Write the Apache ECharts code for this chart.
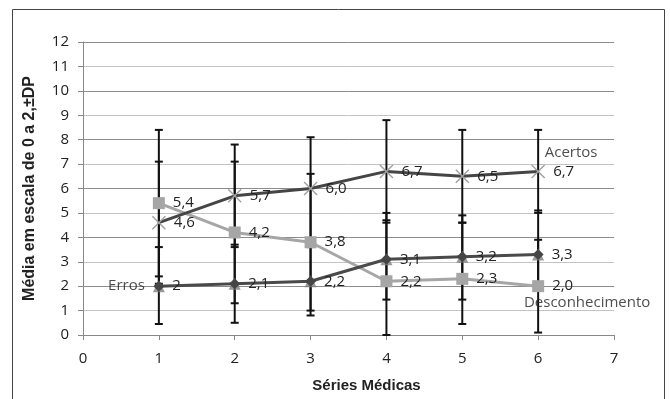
<!DOCTYPE html>
<html><head><meta charset="utf-8">
<script src="https://cdn.jsdelivr.net/npm/echarts@6/dist/echarts.min.js"></script>
<style>html,body{margin:0;padding:0;background:#fff}#c{width:670px;height:399px}</style>
</head><body><div id="c"></div>
<script>
var xs = [1, 2, 3, 4, 5, 6];
var acertos = [4.6, 5.7, 6.0, 6.7, 6.5, 6.7];
var descon = [5.4, 4.2, 3.8, 2.2, 2.3, 2.0];
var erros = [2, 2.1, 2.2, 3.1, 3.2, 3.3];
// error bar ends (low, high)
var acertosLow = [2.1, 3.6, 3.9, 4.6, 4.6, 5.0];
var acertosHigh = [7.1, 7.8, 8.1, 8.8, 8.4, 8.4];
var desconLow = [2.4, 1.3, 1.0, 0.0, 0.45, 0.1];
var desconHigh = [8.4, 7.1, 6.6, 5.0, 4.6, 3.9];
var errosLow = [0.45, 0.5, 0.8, 1.45, 1.45, 2.0];
var errosHigh = [3.6, 3.7, 3.6, 4.7, 4.9, 5.1];
var yTicks = [0,1,2,3,4,5,6,7,8,9,10,11,12];

var FONT = 'Open Sans';
function pairs(v){ return xs.map(function(x,i){ return [x, v[i]]; }); }
function errData(lo, hi){ return xs.map(function(x,i){ return [x, lo[i], hi[i]]; }); }
function errSeries(lo, hi){
  return {
    type: 'custom', z: 1, silent: true,
    data: errData(lo, hi),
    encode: {x: 0, y: [1, 2]},
    renderItem: function(params, api){
      var p1 = api.coord([api.value(0), api.value(1)]);
      var p2 = api.coord([api.value(0), api.value(2)]);
      var w = 4;
      var st = {stroke: '#111', lineWidth: 2};
      return {type: 'group', children: [
        {type: 'line', shape: {x1: p1[0], y1: p1[1], x2: p2[0], y2: p2[1]}, style: st},
        {type: 'line', shape: {x1: p1[0]-w, y1: p1[1], x2: p1[0]+w, y2: p1[1]}, style: st},
        {type: 'line', shape: {x1: p2[0]-w, y1: p2[1], x2: p2[0]+w, y2: p2[1]}, style: st}
      ]};
    }
  };
}
var comma1 = function(p){ return p.value[1].toFixed(1).replace('.', ','); };
var commaRaw = function(p){ return String(p.value[1]).replace('.', ','); };
var lblStyle = {show: true, position: 'right', distance: 8, fontFamily: FONT, fontSize: 15, color: '#222'};
var crossPath = 'path://M0,0.7 L0.7,0 L5,4.3 L9.3,0 L10,0.7 L5.7,5 L10,9.3 L9.3,10 L5,5.7 L0.7,10 L0,9.3 L4.3,5Z';

var chart = echarts.init(document.getElementById('c'));
chart.setOption({
  animation: false,
  backgroundColor: '#fff',
  graphic: [{type: 'rect', shape: {x: 12.5, y: 9.5, width: 652, height: 400}, style: {fill: 'none', stroke: '#444', lineWidth: 1}, silent: true}],
  grid: {left: 83, right: 56, top: 42, bottom: 64},
  xAxis: {
    type: 'value', min: 0, max: 7, interval: 1,
    name: 'Séries Médicas', nameLocation: 'middle', nameGap: 43,
    nameTextStyle: {fontFamily: 'Liberation Sans', fontWeight: 'bold', fontSize: 15, color: '#222', padding: [0, 0, 0, 36]},
    axisLine: {show: true, lineStyle: {color: '#888', width: 1}},
    axisTick: {show: true, length: 5, inside: false, lineStyle: {color: '#888'}},
    axisLabel: {margin: 16, fontFamily: FONT, fontSize: 15, color: '#222'},
    splitLine: {show: false}
  },
  yAxis: {
    type: 'value', min: 0, max: 12, interval: 1,
    name: 'Média em escala de 0 a 2,±DP', nameLocation: 'middle', nameGap: 45,
    nameTextStyle: {fontFamily: 'Liberation Sans', fontWeight: 'bold', fontSize: 16, color: '#222'},
    axisLine: {show: true, lineStyle: {color: '#888', width: 1}},
    axisTick: {show: true, length: 5, lineStyle: {color: '#888'}},
    axisLabel: {margin: 14, fontFamily: FONT, fontSize: 15, color: '#222',
      formatter: function(v){ return yTicks.indexOf(v) >= 0 ? String(v) : ''; }},
    splitLine: {show: true, lineStyle: {color: ['#8c8c8c', '#c4c4c4'], width: 1}}
  },
  series: [
    errSeries(acertosLow, acertosHigh),
    errSeries(desconLow, desconHigh),
    errSeries(errosLow, errosHigh),
    {
      name: 'Desconhecimento', type: 'line', z: 3, data: pairs(descon),
      lineStyle: {color: '#a6a6a6', width: 3},
      symbol: 'rect', symbolSize: 12,
      itemStyle: {color: '#a6a6a6'},
      label: Object.assign({}, lblStyle, {formatter: comma1})
    },
    {
      name: 'Acertos', type: 'line', z: 4, data: pairs(acertos),
      lineStyle: {color: '#454545', width: 3},
      symbol: crossPath, symbolSize: 14,
      itemStyle: {color: '#a0a0a0'},
      label: Object.assign({}, lblStyle, {formatter: comma1})
    },
    {
      name: 'ErrosTri', type: 'scatter', z: 5, data: pairs(erros),
      symbol: 'triangle', symbolSize: 12, itemStyle: {color: '#808080'}, silent: true
    },
    {
      name: 'Erros', type: 'line', z: 6, data: pairs(erros),
      lineStyle: {color: '#4a4a4a', width: 3},
      symbol: 'diamond', symbolSize: 11,
      itemStyle: {color: '#454545'},
      label: Object.assign({}, lblStyle, {formatter: commaRaw})
    },
    {
      type: 'scatter', z: 7, symbolSize: 0, silent: true,
      data: [
        {value: [xs[0], erros[0]], label: {position: 'left', distance: 14, formatter: 'Erros'}},
        {value: [xs[5], acertos[5]], label: {position: 'top', distance: 11, offset: [33, 0], formatter: 'Acertos'}},
        {value: [xs[5], descon[5]], label: {position: 'bottom', distance: 9, offset: [49, 0], formatter: 'Desconhecimento'}}
      ],
      label: {show: true, fontFamily: FONT, fontSize: 15, color: '#222'}
    }
  ]
});
</script></body></html>
